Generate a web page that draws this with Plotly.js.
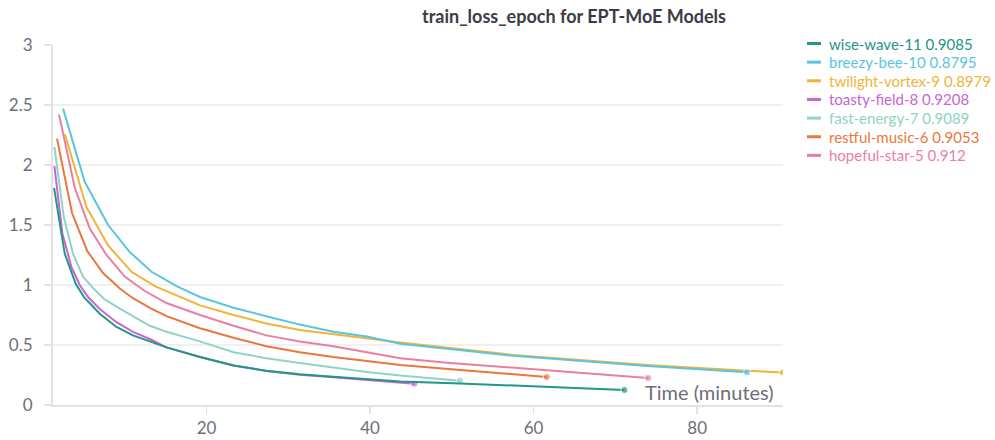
<!DOCTYPE html>
<html>
<head>
<meta charset="utf-8">
<script src="https://cdn.plot.ly/plotly-3.0.1.min.js"></script>
<style>
  html, body { margin: 0; padding: 0; background: #ffffff; }
  #chart { width: 995px; height: 440px; }
</style>
</head>
<body>
<div id="chart"></div>
<script>
// ---- data ----
const runNames = ["wise-wave-11", "breezy-bee-10", "twilight-vortex-9", "toasty-field-8", "fast-energy-7", "restful-music-6", "hopeful-star-5"];
const runScores = ["0.9085", "0.8795", "0.8979", "0.9208", "0.9089", "0.9053", "0.912"];

const wiseWaveT = [1.35, 2.66, 4.0, 5.1, 5.7, 6.94, 8.98, 11.0, 13.06, 15.1, 19.2, 23.3, 27.3, 31.4, 35.5, 39.6, 43.7, 51.0, 61.6, 71.1];
const wiseWaveV = [1.81, 1.26, 1.01, 0.89, 0.85, 0.76, 0.65, 0.58, 0.53, 0.48, 0.40, 0.33, 0.286, 0.256, 0.236, 0.214, 0.196, 0.18, 0.148, 0.125];

const breezyBeeT = [2.45, 5.10, 7.96, 10.53, 13.27, 16.33, 19.2, 23.3, 27.3, 31.4, 35.5, 39.6, 43.7, 57.5, 73.9, 86.1];
const breezyBeeV = [2.47, 1.86, 1.50, 1.28, 1.11, 0.99, 0.90, 0.81, 0.74, 0.67, 0.61, 0.57, 0.51, 0.41, 0.325, 0.272];

const twilightT = [2.66, 5.31, 7.96, 10.82, 13.67, 16.73, 19.2, 23.3, 27.3, 31.4, 35.5, 39.6, 43.7, 57.5, 73.9, 86.1, 90.45];
const twilightV = [2.26, 1.65, 1.33, 1.11, 0.99, 0.90, 0.83, 0.75, 0.68, 0.625, 0.59, 0.56, 0.52, 0.417, 0.333, 0.286, 0.27];

const toastyT = [1.39, 2.37, 3.47, 4.49, 5.5, 6.94, 8.98, 11.0, 13.06, 15.1, 19.2, 23.3, 27.3, 31.4, 35.5, 39.6, 43.7, 45.4];
const toastyV = [1.99, 1.43, 1.15, 1.0, 0.90, 0.80, 0.69, 0.61, 0.55, 0.48, 0.40, 0.33, 0.283, 0.253, 0.232, 0.208, 0.188, 0.178];

const fastEnergyT = [1.39, 2.53, 3.67, 4.9, 6.33, 7.55, 8.98, 11.0, 13.06, 15.1, 19.2, 23.3, 27.3, 31.4, 35.5, 39.6, 43.7, 51.0];
const fastEnergyV = [2.15, 1.57, 1.26, 1.07, 0.96, 0.88, 0.82, 0.74, 0.66, 0.61, 0.53, 0.44, 0.39, 0.35, 0.31, 0.275, 0.245, 0.203];

const restfulT = [1.71, 3.55, 5.43, 7.34, 9.39, 11.0, 13.06, 15.1, 19.2, 23.3, 27.3, 31.4, 35.5, 39.6, 43.7, 51.4, 61.6];
const restfulV = [2.22, 1.60, 1.28, 1.10, 0.97, 0.89, 0.81, 0.74, 0.64, 0.56, 0.49, 0.44, 0.40, 0.365, 0.333, 0.29, 0.233];

const hopefulT = [1.96, 3.88, 5.72, 7.76, 9.99, 12.45, 15.1, 19.2, 23.3, 27.3, 31.4, 35.5, 39.6, 43.7, 49.4, 57.5, 65.7, 74.0];
const hopefulV = [2.42, 1.81, 1.47, 1.25, 1.07, 0.95, 0.85, 0.75, 0.66, 0.58, 0.53, 0.49, 0.44, 0.39, 0.353, 0.31, 0.27, 0.225];

const xTickVals = [20, 40, 60, 80];
const yTickVals = [0, 0.5, 1, 1.5, 2, 2.5, 3];

// ---- styling ----
const colors = ["#239686", "#5bc5dc", "#f0b43c", "#c865d4", "#8fd4c4", "#ea773f", "#ea7fa1"];
const seriesT = [wiseWaveT, breezyBeeT, twilightT, toastyT, fastEnergyT, restfulT, hopefulT];
const seriesV = [wiseWaveV, breezyBeeV, twilightV, toastyV, fastEnergyV, restfulV, hopefulV];

const W = 995, H = 440;
const M = {l: 53, r: 212, t: 45, b: 35};
const PW = W - M.l - M.r, PH = H - M.t - M.b;
const px2paperX = px => (px - M.l) / PW;
const px2paperY = py => (H - M.b - py) / PH;

const traces = [];
// draw in reverse so lower runs sit under
for (let i = seriesT.length - 1; i >= 0; i--) {
  const n = seriesT[i].length;
  traces.push({
    type: "scatter",
    mode: "lines+markers",
    x: seriesT[i],
    y: seriesV[i],
    name: runNames[i] + " " + runScores[i],
    line: {color: colors[i], width: 2},
    marker: {color: colors[i], size: seriesT[i].map((_, k) => k === n - 1 ? 7 : 0)},
    showlegend: false,
    hoverinfo: "skip"
  });
}

// manual legend (short keys like the reference)
const annotations = [];
const shapes = [];
const legendY0 = 43.5, legendStep = 18.65;
for (let i = 0; i < runNames.length; i++) {
  const py = legendY0 + i * legendStep;
  shapes.push({
    type: "line", xref: "paper", yref: "paper",
    x0: px2paperX(807), x1: px2paperX(821),
    y0: px2paperY(py), y1: px2paperY(py),
    line: {color: colors[i], width: 3}
  });
  annotations.push({
    xref: "paper", yref: "paper",
    x: px2paperX(827), y: px2paperY(py),
    xanchor: "left", yanchor: "middle",
    text: runNames[i] + " " + runScores[i],
    showarrow: false,
    font: {family: "Lato, 'Noto Sans', sans-serif", size: 15, color: colors[i]}
  });
}
annotations.push({
  xref: "paper", yref: "paper",
  x: px2paperX(776), y: px2paperY(391.5),
  xanchor: "right", yanchor: "middle",
  text: "Time (minutes)",
  showarrow: false,
  font: {family: "Lato, 'Noto Sans', sans-serif", size: 20, color: "#6e6e78"}
});

const layout = {
  width: W, height: H,
  margin: M,
  paper_bgcolor: "#ffffff",
  plot_bgcolor: "#ffffff",
  showlegend: false,
  title: {
    text: "<b>train_loss_epoch for EPT-MoE Models</b>",
    x: 574 / W, xref: "container", xanchor: "center",
    y: 1 - 17 / H, yref: "container", yanchor: "middle",
    font: {family: "Lato, 'Noto Sans', sans-serif", size: 18, color: "#3c3c46"}
  },
  xaxis: {
    range: [1.22, 90.5],
    tickvals: xTickVals,
    showgrid: false,
    zeroline: false,
    showline: true, linecolor: "#e2e2e2", linewidth: 2,
    ticks: "outside", ticklen: 7, tickwidth: 1.5, tickcolor: "#e2e2e2",
    tickfont: {family: "Lato, 'Noto Sans', sans-serif", size: 17, color: "#6e6e78"}
  },
  yaxis: {
    range: [0, 3],
    tickvals: yTickVals,
    showgrid: true, gridcolor: "#f0f0f0", gridwidth: 1.5,
    zeroline: false,
    showline: true, linecolor: "#e2e2e2", linewidth: 2,
    ticks: "outside", ticklen: 7, tickwidth: 1.5, tickcolor: "#e2e2e2",
    ticklabelstandoff: 8,
    tickfont: {family: "Lato, 'Noto Sans', sans-serif", size: 17, color: "#6e6e78"}
  },
  annotations: annotations,
  shapes: shapes
};

Plotly.newPlot("chart", traces, layout, {displayModeBar: false, staticPlot: true});
</script>
</body>
</html>
